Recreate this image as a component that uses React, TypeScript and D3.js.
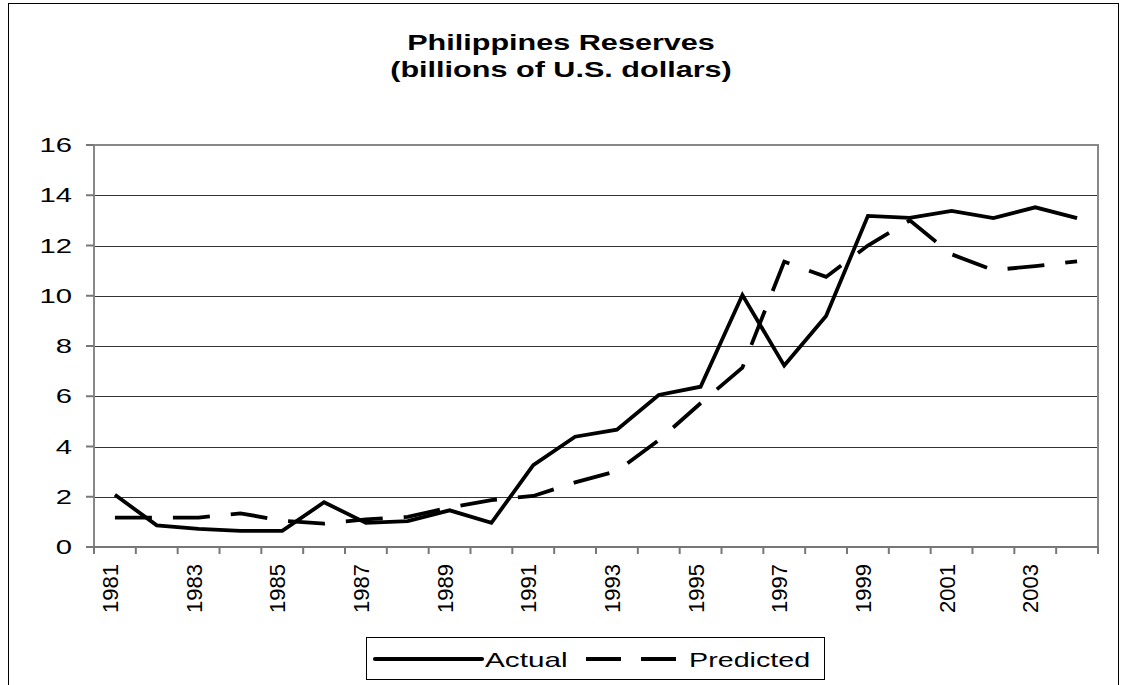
import React from 'react';
import * as d3 from 'd3';

const years = ['1981', '1982', '1983', '1984', '1985', '1986', '1987', '1988', '1989', '1990', '1991', '1992',
  '1993', '1994', '1995', '1996', '1997', '1998', '1999', '2000', '2001', '2002', '2003', '2004'];
const actual = [2.08, 0.86, 0.72, 0.64, 0.64, 1.78, 0.96, 1.03, 1.46, 0.96, 3.26, 4.39, 4.67, 6.05, 6.38, 10.03,
  7.22, 9.19, 13.18, 13.1, 13.38, 13.09, 13.52, 13.09];
const predicted = [1.17, 1.17, 1.17, 1.34, 1.05, 0.93, 1.1, 1.2, 1.57, 1.87, 2.03, 2.57, 3.02, 4.25, 5.72, 7.14,
  11.36, 10.75, 12.0, 13.0, 11.65, 11.02, 11.18, 11.37];
const yTicks = [0, 2, 4, 6, 8, 10, 12, 14, 16];
const xLabels = ['1981', '1983', '1985', '1987', '1989', '1991', '1993', '1995', '1997', '1999', '2001', '2003'];
const titleLines = ['Philippines Reserves', '(billions of U.S. dollars)'];
const seriesNames = ['Actual', 'Predicted'];

const W = 1122;
const H = 685;
const FONT = '"Liberation Sans", Arial, Helvetica, sans-serif';

export default function App() {
  const x = d3.scaleBand<string>().domain(years).range([94, 1098]).padding(0);
  const y = d3.scaleLinear().domain([0, 16]).range([547, 145]);
  const cx = (yr: string) => (x(yr) as number) + x.bandwidth() / 2;

  const line = d3
    .line<number>()
    .x((_, i) => cx(years[i]))
    .y((d) => y(d));

  const boundaries = years.map((yr) => x(yr) as number).concat([1098]);

  return (
    <svg
      width={W}
      height={H}
      style={{ position: 'absolute', left: 0, top: 0, background: '#fff' }}
      fontFamily={FONT}
    >
      <rect x={0} y={0} width={W} height={H} fill="#fff" />
      {/* outer frame */}
      <rect x={8.5} y={3.5} width={1110} height={720} fill="none" stroke="#000" strokeWidth={1} />

      {/* title */}
      {titleLines.map((t, i) => (
        <text
          key={t}
          transform={`translate(561, ${50 + i * 27}) scale(1.36, 1)`}
          textAnchor="middle"
          fontWeight="bold"
          fontSize={22.5}
          fill="#000"
        >
          {t}
        </text>
      ))}

      {/* gridlines */}
      {yTicks
        .filter((t) => t > 0 && t < 16)
        .map((t) => (
          <line key={t} x1={94} x2={1098} y1={Math.round(y(t)) + 0.5} y2={Math.round(y(t)) + 0.5} stroke="#333" strokeWidth={1} />
        ))}

      {/* plot border */}
      <rect x={94} y={145} width={1004} height={402} fill="none" stroke="#888" strokeWidth={2} />
      <line x1={94} x2={1098} y1={547} y2={547} stroke="#777" strokeWidth={2} />

      {/* y ticks and labels */}
      {yTicks.map((t) => (
        <g key={t}>
          <line x1={86} x2={94} y1={y(t)} y2={y(t)} stroke="#777" strokeWidth={2} />
          <text transform={`translate(72, ${y(t) + 7}) scale(1.5, 1)`} textAnchor="end" fontSize={19.5} fill="#000">
            {t}
          </text>
        </g>
      ))}

      {/* x ticks */}
      {boundaries.map((b, i) => (
        <line key={i} x1={b} x2={b} y1={547} y2={554} stroke="#777" strokeWidth={2} />
      ))}
      {xLabels.map((yr) => (
        <text
          key={yr}
          transform={`translate(${cx(yr) + 3}, 564) rotate(-90)`}
          textAnchor="end"
          fontSize={22}
          fill="#000"
        >
          {yr}
        </text>
      ))}

      {/* series */}
      <path d={line(predicted) as string} fill="none" stroke="#000" strokeWidth={3.8} strokeDasharray="37 21" />
      <path d={line(actual) as string} fill="none" stroke="#000" strokeWidth={3.8} strokeLinejoin="miter" />

      {/* legend */}
      <rect x={366.5} y={637.5} width={458} height={42} fill="#fff" stroke="#000" strokeWidth={1} />
      <line x1={375} x2={482} y1={659} y2={659} stroke="#000" strokeWidth={4.2} strokeLinecap="round" />
      <text transform="translate(485, 667) scale(1.45, 1)" fontSize={20.5} fill="#000">
        {seriesNames[0]}
      </text>
      <line x1={586} x2={676} y1={659} y2={659} stroke="#000" strokeWidth={4.2} strokeDasharray="35 20" />
      <text transform="translate(689, 667) scale(1.4, 1)" fontSize={20.5} fill="#000">
        {seriesNames[1]}
      </text>
    </svg>
  );
}
